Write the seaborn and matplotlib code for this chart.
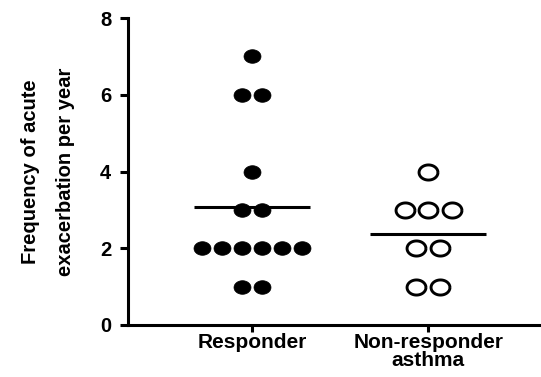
import numpy as np
import pandas as pd
import matplotlib
matplotlib.use('Agg')
import matplotlib.pyplot as plt
import seaborn as sns

# Data
groups = ['Responder', 'Non-responder\nasthma']
responder = [7, 6, 6, 4, 3, 3, 2, 2, 2, 2, 2, 2, 1, 1]
non_responder = [4, 3, 3, 3, 2, 2, 1, 1]
yticks = [0, 2, 4, 6, 8]

sns.set_style('ticks')
plt.rcParams['font.family'] = ['Liberation Sans', 'DejaVu Sans']
plt.rcParams['text.color'] = 'black'
plt.rcParams['axes.labelcolor'] = 'black'
plt.rcParams['xtick.color'] = 'black'
plt.rcParams['ytick.color'] = 'black'
plt.rcParams['axes.edgecolor'] = 'black'

# Spread tied values symmetrically around the group centre
def spread(values, gi, step):
    rows = []
    s = pd.Series(values)
    for v, n in s.value_counts(sort=False).items():
        for i in range(n):
            rows.append({'x': gi + (i - (n - 1) / 2) * step, 'y': v})
    return pd.DataFrame(rows)

df_r = spread(responder, 0, 0.114)
df_n = spread(non_responder, 1, 0.134)

# ellipse marker (the original is a little wider than tall)
t = np.linspace(0, 2 * np.pi, 60)
ell = list(zip(1.25 * np.cos(t), np.sin(t)))

fig = plt.figure(figsize=(5.41, 3.77), dpi=100)
ax = fig.add_axes([0.2366, 0.138, 0.7634, 0.814])

sns.scatterplot(data=df_r, x='x', y='y', ax=ax, marker=ell, s=150,
                color='black', edgecolor='black', linewidth=0.5, legend=False)
sns.scatterplot(data=df_n, x='x', y='y', ax=ax, marker=ell, s=185,
                facecolor='white', edgecolor='black', linewidth=2.1, legend=False)

# mean lines
for gi, vals in enumerate([responder, non_responder]):
    ax.hlines(np.mean(vals), gi - 0.33, gi + 0.33, color='black', lw=2.2, zorder=1)

ax.set_xlim(-0.705, 1.64)
ax.set_ylim(0, 8)
ax.set_xticks([0, 1])
ax.set_xticklabels(groups, fontsize=15, fontweight='bold', linespacing=0.9)
ax.set_yticks(yticks)
ax.set_yticklabels([str(v) for v in yticks], fontsize=14.5, fontweight='bold')
ax.set_xlabel('')
ax.set_ylabel('Frequency of acute\nexacerbation per year', fontsize=14.5,
              fontweight='bold', labelpad=18, linespacing=2.1)

sns.despine(ax=ax)
for side in ['left', 'bottom']:
    ax.spines[side].set_linewidth(2.2)
ax.tick_params(axis='y', length=6, width=2.2, pad=6)
ax.tick_params(axis='x', length=5, width=2.2, pad=1)

fig.savefig('out.png', dpi=100)
